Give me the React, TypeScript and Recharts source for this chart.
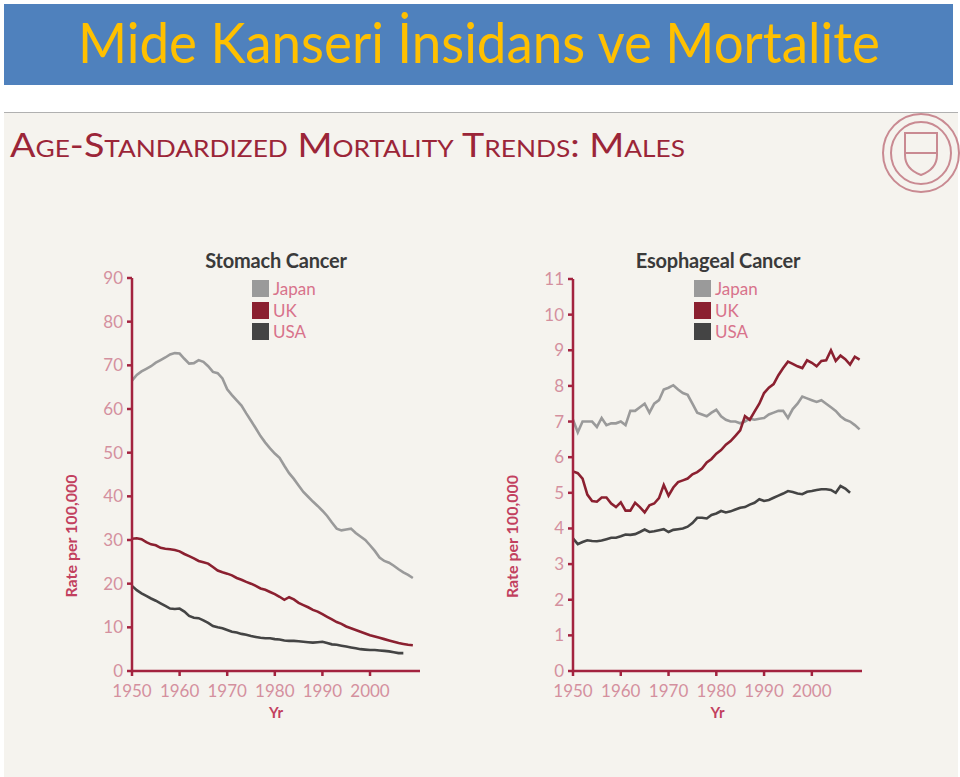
import React from "react";
import { LineChart, Line, XAxis, YAxis } from "recharts";

const years = Array.from({ length: 61 }, (_, i) => 1950 + i);
const decadeTicks = [1950, 1960, 1970, 1980, 1990, 2000];
const stomachTicks = [0, 10, 20, 30, 40, 50, 60, 70, 80, 90];
const esophTicks = [0, 1, 2, 3, 4, 5, 6, 7, 8, 9, 10, 11];
const countries = ["Japan", "UK", "USA"] as const;

// stomach cancer, males, rate per 100,000 (1950 onward)
const stomachJapan = [
  66.5, 67.8, 68.6, 69.2, 69.8, 70.6, 71.2, 71.8, 72.5, 72.8,
  72.7, 71.5, 70.4, 70.5, 71.2, 70.8, 69.8, 68.5, 68.2, 67.0,
  64.5, 63.2, 62.0, 60.8, 59.0, 57.3, 55.6, 53.8, 52.3, 51.0,
  49.8, 48.8, 47.0, 45.3, 44.0, 42.5, 41.0, 39.9, 38.8, 37.8,
  36.7, 35.5, 34.0, 32.6, 32.2, 32.4, 32.6, 31.6, 30.8, 30.0,
  28.8, 27.5, 26.0, 25.2, 24.8, 24.1, 23.3, 22.6, 22.0, 21.3,
];
const stomachUK = [
  30.3, 30.4, 30.2, 29.5, 29.0, 28.8, 28.2, 28.0, 27.9, 27.7,
  27.4, 26.8, 26.3, 25.8, 25.2, 24.9, 24.6, 23.8, 23.0, 22.6,
  22.3, 21.9, 21.3, 20.9, 20.4, 20.0, 19.5, 18.9, 18.6, 18.1,
  17.6, 17.0, 16.3, 16.9, 16.4, 15.6, 15.1, 14.6, 14.0, 13.6,
  13.0, 12.4, 11.8, 11.2, 10.8, 10.2, 9.8, 9.4, 9.0, 8.6,
  8.2, 7.9, 7.6, 7.3, 7.0, 6.7, 6.4, 6.2, 6.0, 5.9,
];
const stomachUSA = [
  19.5, 18.5, 17.8, 17.2, 16.6, 16.1, 15.5, 14.9, 14.3, 14.2,
  14.3, 13.6, 12.6, 12.2, 12.1, 11.6, 11.0, 10.3, 10.0, 9.8,
  9.4, 9.0, 8.8, 8.5, 8.3, 8.0, 7.8, 7.6, 7.5, 7.5,
  7.3, 7.2, 7.0, 6.9, 6.9, 6.8, 6.7, 6.6, 6.5, 6.6,
  6.7, 6.4, 6.1, 6.0, 5.8, 5.6, 5.4, 5.2, 5.0, 4.9,
  4.8, 4.8, 4.7, 4.6, 4.5, 4.3, 4.1, 4.1,
];

// esophageal cancer, males
const esophJapan = [
  7.05, 6.7, 7.0, 7.0, 7.0, 6.85, 7.1, 6.9, 6.95, 6.95,
  7.0, 6.9, 7.3, 7.3, 7.4, 7.5, 7.25, 7.5, 7.6, 7.9,
  7.95, 8.02, 7.9, 7.8, 7.75, 7.5, 7.25, 7.2, 7.15, 7.25,
  7.33, 7.15, 7.05, 7.0, 7.0, 6.95, 7.0, 7.08, 7.05, 7.08,
  7.1, 7.2, 7.25, 7.3, 7.3, 7.1, 7.35, 7.5, 7.7, 7.65,
  7.6, 7.55, 7.6, 7.5, 7.4, 7.3, 7.15, 7.05, 7.0, 6.9,
  6.78,
];
const esophUK = [
  5.6, 5.55, 5.4, 4.95, 4.77, 4.75, 4.87, 4.87, 4.7, 4.6,
  4.73, 4.5, 4.5, 4.72, 4.6, 4.45, 4.65, 4.7, 4.85, 5.22,
  4.92, 5.15, 5.3, 5.35, 5.4, 5.52, 5.58, 5.68, 5.85, 5.95,
  6.1, 6.2, 6.35, 6.45, 6.6, 6.75, 7.15, 7.05, 7.28, 7.5,
  7.8, 7.95, 8.05, 8.3, 8.5, 8.68, 8.62, 8.55, 8.5, 8.72,
  8.65, 8.55, 8.7, 8.72, 9.0, 8.7, 8.85, 8.75, 8.6, 8.82,
  8.74,
];
const esophUSA = [
  3.72, 3.56, 3.62, 3.67, 3.65, 3.64, 3.66, 3.7, 3.74, 3.74,
  3.78, 3.83, 3.82, 3.84, 3.9, 3.97, 3.9, 3.92, 3.95, 3.98,
  3.9, 3.96, 3.98, 4.0, 4.05, 4.15, 4.3, 4.3, 4.28, 4.38,
  4.42, 4.49, 4.45, 4.48, 4.53, 4.58, 4.6, 4.67, 4.72, 4.82,
  4.77, 4.8, 4.86, 4.92, 4.98, 5.05, 5.02, 4.98, 4.96, 5.03,
  5.05, 5.08, 5.1, 5.1, 5.08, 5.0, 5.19, 5.12, 5.0,
];

const FONT = "Lato, 'Open Sans', sans-serif";
const AXIS = "#a3233f";
const TICK_TEXT = "#d4909e";
const LABEL = "#c2405e";
const colors = { Japan: "#9a9a9a", UK: "#8b2030", USA: "#444444" };

const build = (a: number[], b: number[], c: number[]) =>
  years.map((yr, i) => ({ yr, Japan: a[i], UK: b[i], USA: c[i] }));

const stomachData = build(stomachJapan, stomachUK, stomachUSA);
const esophData = build(esophJapan, esophUK, esophUSA);

const LegendBox = ({ left, top }: { left: number; top: number }) => (
  <div style={{ position: "absolute", left, top, fontFamily: FONT }}>
    {countries.map((k) => (
      <div key={k} style={{ display: "flex", alignItems: "center", height: 21.5 }}>
        <span style={{ width: 17, height: 17, background: colors[k], display: "inline-block", marginRight: 4 }} />
        <span style={{ color: "#d8728b", fontSize: 17 }}>{k}</span>
      </div>
    ))}
  </div>
);

type PanelProps = {
  left: number;
  data: any[];
  ticks: number[];
  max: number;
  title: string;
  mLeft: number;
  mTop: number;
};

const Panel = ({ left, data, ticks, max, title, mLeft, mTop }: PanelProps) => (
  <div style={{ position: "absolute", left, top: 250, width: 400, height: 480 }}>
    <LineChart width={400} height={480} data={data} margin={{ top: mTop, right: 20, left: mLeft, bottom: 19 }}>
      <XAxis
        type="number"
        dataKey="yr"
        domain={[1950, 2010.5]}
        ticks={decadeTicks}
        allowDataOverflow
        height={40}
        stroke={AXIS}
        strokeWidth={2.5}
        tickSize={5}
        tickMargin={9}
        tick={{ fill: TICK_TEXT, fontSize: 17, fontFamily: FONT }}
        label={{ value: "Yr", position: "bottom", offset: -4, fill: LABEL, fontSize: 15, fontWeight: 700, fontFamily: FONT }}
      />
      <YAxis
        domain={[0, max]}
        ticks={ticks}
        width={50}
        stroke={AXIS}
        strokeWidth={2.5}
        tickSize={5}
        tickMargin={4}
        interval={0}
        tick={{ fill: TICK_TEXT, fontSize: 17, fontFamily: FONT }}
        label={{ value: "Rate per 100,000", angle: -90, position: "left", offset: 11, fill: LABEL, fontSize: 16, fontWeight: 700, fontFamily: FONT }}
      />
      <Line dataKey="Japan" stroke={colors.Japan} strokeWidth={2.6} dot={false} isAnimationActive={false} />
      <Line dataKey="UK" stroke={colors.UK} strokeWidth={2.6} dot={false} isAnimationActive={false} />
      <Line dataKey="USA" stroke={colors.USA} strokeWidth={2.6} dot={false} isAnimationActive={false} />
    </LineChart>
    <div style={{ position: "absolute", left: 92, width: 288, top: -2, textAlign: "center", fontFamily: FONT, fontWeight: 700, fontSize: 20, color: "#3a3a3a", letterSpacing: -0.2 }}>
      {title}
    </div>
    <LegendBox left={212} top={28} />
  </div>
);

export default function App() {
  return (
    <div style={{ position: "absolute", left: 0, top: 0, width: 960, height: 777, background: "#ffffff", overflow: "hidden" }}>
      <svg width={960} height={777} style={{ position: "absolute", left: 0, top: 0 }}>
        <defs>
          <linearGradient id="rule" x1="0" x2="1" y1="0" y2="0">
            <stop offset="0" stopColor="#7a1525" />
            <stop offset="0.75" stopColor="#8e2233" />
            <stop offset="1" stopColor="#9a9a9a" />
          </linearGradient>
        </defs>
        <rect x={4} y={4} width={949} height={81} fill="#4f81bd" />
        <text x={78} y={63} textLength={802} lengthAdjust="spacingAndGlyphs" fill="#ffc000" fontSize={56} fontFamily={FONT}>
          Mide Kanseri İnsidans ve Mortalite
        </text>
        <rect x={4} y={112} width={954} height={665} fill="#f5f3ee" />
        <line x1={4} x2={958} y1={112.5} y2={112.5} stroke="#b0b0b0" strokeWidth={1} />
        <text x={10} y={157} textLength={675} lengthAdjust="spacingAndGlyphs" fill="#9b2538" fontSize={33} fontFamily={FONT} style={{ fontVariant: "small-caps" }}>
          Age-Standardized Mortality Trends: Males
        </text>
        <line x1={5} x2={955} y1={200} y2={200} stroke="url(#rule)" strokeWidth={3} />
        <g fill="none" stroke="#c98a92" strokeWidth={2}>
          <ellipse cx={921} cy={153} rx={38} ry={39} />
          <ellipse cx={921} cy={153} rx={30} ry={31} />
          <path d="M905 133 h32 v22 q0 14 -16 20 q-16 -6 -16 -20 z" />
          <line x1={905} x2={937} y1={153} y2={153} />
        </g>
      </svg>
      <Panel left={40} data={stomachData} ticks={stomachTicks} max={90} title="Stomach Cancer" mLeft={42} mTop={28} />
      <Panel left={482} data={esophData} ticks={esophTicks} max={11} title="Esophageal Cancer" mLeft={41} mTop={29} />
    </div>
  );
}
